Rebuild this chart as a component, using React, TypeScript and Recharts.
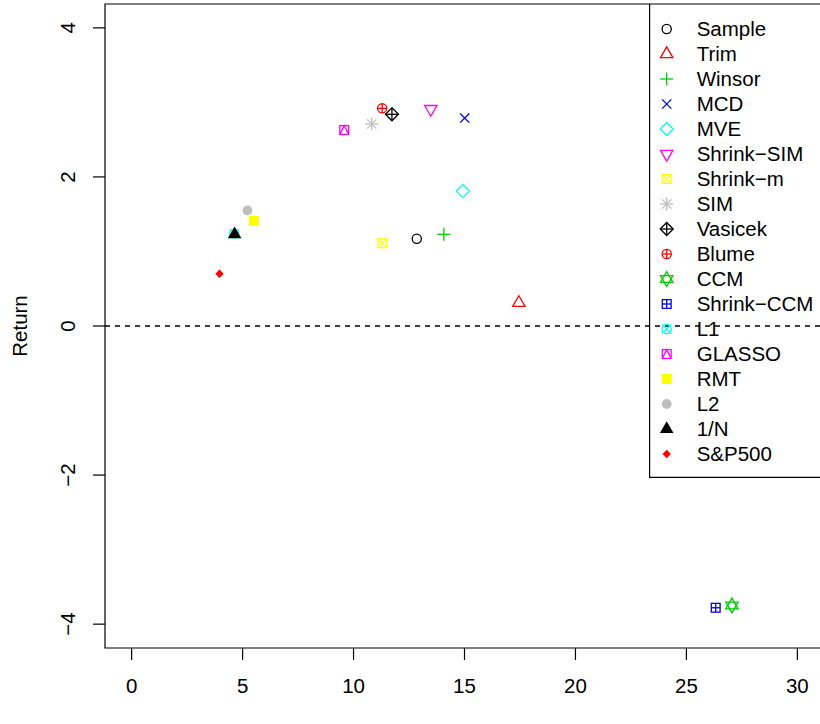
import React from "react";
import {
  ScatterChart,
  Scatter,
  XAxis,
  YAxis,
  ReferenceLine,
  ReferenceArea,
  Legend,
} from "recharts";

// estimators, in legend order
const methods = [
  "Sample", "Trim", "Winsor", "MCD", "MVE", "Shrink−SIM", "Shrink−m", "SIM", "Vasicek",
  "Blume", "CCM", "Shrink−CCM", "L1", "GLASSO", "RMT", "L2", "1/N", "S&P500",
];
const risk = [
  12.85, 17.45, 14.07, 15.01, 14.92, 13.48, 11.3, 10.82, 11.73,
  11.29, 27.05, 26.32, 4.62, 9.58, 5.51, 5.22, 4.64, 3.96,
];
const returns = [
  1.17, 0.31, 1.23, 2.79, 1.81, 2.91, 1.11, 2.71, 2.84,
  2.92, -3.75, -3.78, 1.24, 2.63, 1.41, 1.55, 1.23, 0.7,
];
const xTicks = [0, 5, 10, 15, 20, 25, 30];
const yTicks = [-4, -2, 0, 2, 4];

// R base palette + pch codes (style, not data)
const rPalette = ["#000000", "#FF0000", "#00CD00", "#0000FF", "#00FFFF", "#FF00FF", "#FFFF00", "#BEBEBE"];
const pchCodes = methods.map((_, i) => i + 1);
const colourOf = (i: number) => rPalette[i % 8];

const FONT = '"Liberation Sans", Arial, Helvetica, sans-serif';
const FS = 20.5;
const R = 4.6;
const SW = 1.3;

function PchSymbol({ cx, cy, pch, color }: { cx: number; cy: number; pch: number; color: string }) {
  const s = { stroke: color, strokeWidth: SW, fill: "none" };
  const f = { fill: color, stroke: "none" };
  const r = R;
  const q = 1.414 * r;
  const sq = 4.4;
  const tri = (up: boolean) => {
    const a = 1.555 * r, b = 0.778 * r, w = 1.347 * r;
    return up
      ? `${cx},${cy - a} ${cx + w},${cy + b} ${cx - w},${cy + b}`
      : `${cx},${cy + a} ${cx + w},${cy - b} ${cx - w},${cy - b}`;
  };
  switch (pch) {
    case 1:
      return <circle cx={cx} cy={cy} r={r} {...s} />;
    case 2:
      return <polygon points={tri(true)} {...s} />;
    case 3:
      return (
        <g {...s}>
          <line x1={cx - q} y1={cy} x2={cx + q} y2={cy} />
          <line x1={cx} y1={cy - q} x2={cx} y2={cy + q} />
        </g>
      );
    case 4:
      return (
        <g {...s}>
          <line x1={cx - r} y1={cy - r} x2={cx + r} y2={cy + r} />
          <line x1={cx - r} y1={cy + r} x2={cx + r} y2={cy - r} />
        </g>
      );
    case 5:
      return <polygon points={`${cx},${cy - q} ${cx + q},${cy} ${cx},${cy + q} ${cx - q},${cy}`} {...s} />;
    case 6:
      return <polygon points={tri(false)} {...s} />;
    case 7:
      return (
        <g {...s}>
          <rect x={cx - sq} y={cy - sq} width={2 * sq} height={2 * sq} />
          <line x1={cx - sq} y1={cy - sq} x2={cx + sq} y2={cy + sq} />
          <line x1={cx - sq} y1={cy + sq} x2={cx + sq} y2={cy - sq} />
        </g>
      );
    case 8:
      return (
        <g {...s}>
          <line x1={cx - r} y1={cy - r} x2={cx + r} y2={cy + r} />
          <line x1={cx - r} y1={cy + r} x2={cx + r} y2={cy - r} />
          <line x1={cx - q} y1={cy} x2={cx + q} y2={cy} />
          <line x1={cx} y1={cy - q} x2={cx} y2={cy + q} />
        </g>
      );
    case 9:
      return (
        <g {...s}>
          <polygon points={`${cx},${cy - q} ${cx + q},${cy} ${cx},${cy + q} ${cx - q},${cy}`} />
          <line x1={cx - q} y1={cy} x2={cx + q} y2={cy} />
          <line x1={cx} y1={cy - q} x2={cx} y2={cy + q} />
        </g>
      );
    case 10:
      return (
        <g {...s}>
          <circle cx={cx} cy={cy} r={r} />
          <line x1={cx - r} y1={cy} x2={cx + r} y2={cy} />
          <line x1={cx} y1={cy - r} x2={cx} y2={cy + r} />
        </g>
      );
    case 11: {
      const H = 1.6 * r, h = 0.73 * r, w = 1.347 * r;
      return (
        <g {...s}>
          <polygon points={`${cx},${cy - H} ${cx + w},${cy + h} ${cx - w},${cy + h}`} />
          <polygon points={`${cx},${cy + H} ${cx + w},${cy - h} ${cx - w},${cy - h}`} />
        </g>
      );
    }
    case 12:
      return (
        <g {...s}>
          <rect x={cx - sq} y={cy - sq} width={2 * sq} height={2 * sq} />
          <line x1={cx - sq} y1={cy} x2={cx + sq} y2={cy} />
          <line x1={cx} y1={cy - sq} x2={cx} y2={cy + sq} />
        </g>
      );
    case 13:
      return (
        <g {...s}>
          <circle cx={cx} cy={cy} r={r} />
          <line x1={cx - r} y1={cy - r} x2={cx + r} y2={cy + r} />
          <line x1={cx - r} y1={cy + r} x2={cx + r} y2={cy - r} />
        </g>
      );
    case 14:
      return (
        <g {...s}>
          <rect x={cx - sq} y={cy - sq} width={2 * sq} height={2 * sq} />
          <polyline points={`${cx - sq},${cy + sq} ${cx},${cy - sq} ${cx + sq},${cy + sq}`} />
        </g>
      );
    case 15:
      return <rect x={cx - sq - 0.6} y={cy - sq - 0.6} width={2 * sq + 1.2} height={2 * sq + 1.2} {...f} />;
    case 16:
      return <circle cx={cx} cy={cy} r={r + 0.3} {...f} />;
    case 17: {
      const a = 1.555 * r + 0.6, b = 0.778 * r + 0.4, w = 1.347 * r + 0.6;
      return <polygon points={`${cx},${cy - a} ${cx + w},${cy + b} ${cx - w},${cy + b}`} {...f} />;
    }
    case 18: {
      const d = 4.2;
      return <polygon points={`${cx},${cy - d} ${cx + d},${cy} ${cx},${cy + d} ${cx - d},${cy}`} {...f} />;
    }
    default:
      return null;
  }
}

function XTick({ x, y, payload }: any) {
  return (
    <text x={x} y={y + 31} textAnchor="middle" fontFamily={FONT} fontSize={FS} fill="#000">
      {payload.value}
    </text>
  );
}

function YTick({ x, y, payload }: any) {
  const v = Number(payload.value);
  const label = v < 0 ? `−${Math.abs(v)}` : `${v}`;
  return (
    <text
      transform={`translate(${x - 16}, ${y}) rotate(-90)`}
      textAnchor="middle"
      fontFamily={FONT}
      fontSize={FS}
      fill="#000"
    >
      {label}
    </text>
  );
}

function YLabel({ viewBox }: any) {
  const cy = viewBox.y + viewBox.height / 2;
  return (
    <text
      transform={`translate(27, ${cy}) rotate(-90)`}
      textAnchor="middle"
      fontFamily={FONT}
      fontSize={FS}
      fill="#000"
    >
      Return
    </text>
  );
}

const LEG_W = 190;
const LEG_H = 474;

function LegendBox() {
  return (
    <svg width={LEG_W} height={LEG_H} style={{ display: "block" }}>
      <line x1={0.6} y1={0} x2={0.6} y2={LEG_H} stroke="#000" strokeWidth={1.2} />
      <line x1={0} y1={LEG_H - 0.6} x2={LEG_W} y2={LEG_H - 0.6} stroke="#000" strokeWidth={1.2} />
      {methods.map((m, i) => {
        const cy = 25 + 25 * i;
        return (
          <g key={m}>
            <PchSymbol cx={17.7} cy={cy} pch={pchCodes[i]} color={colourOf(i)} />
            <text x={47.7} y={cy + 7} fontFamily={FONT} fontSize={FS} fill="#000">
              {m}
            </text>
          </g>
        );
      })}
    </svg>
  );
}

export default function App() {
  return (
    <div
      style={{
        position: "absolute",
        left: 0,
        top: 0,
        width: 820,
        height: 724,
        overflow: "hidden",
        background: "#fff",
      }}
    >
      <ScatterChart width={830} height={724} margin={{ top: 4, right: 6, bottom: 0, left: 0 }}>
        <XAxis
          type="number"
          dataKey="x"
          domain={[-1.2, 31.2]}
          ticks={xTicks}
          allowDataOverflow
          height={76}
          axisLine={false}
          tickLine={{ stroke: "#000", strokeWidth: 1.2 }}
          tickSize={12}
          tick={<XTick />}
          interval={0}
        />
        <YAxis
          type="number"
          dataKey="y"
          domain={[-4.32, 4.32]}
          ticks={yTicks}
          allowDataOverflow
          width={105}
          axisLine={false}
          tickLine={{ stroke: "#000", strokeWidth: 1.2 }}
          tickSize={12}
          tick={<YTick />}
          interval={0}
          label={<YLabel />}
        />
        <ReferenceArea
          x1={-1.2}
          x2={31.2}
          y1={-4.32}
          y2={4.32}
          fill="none"
          fillOpacity={0}
          stroke="#000"
          strokeWidth={1.2}
          ifOverflow="visible"
        />
        {methods.map((m, i) => (
          <Scatter
            key={m}
            name={m}
            data={[{ x: risk[i], y: returns[i] }]}
            isAnimationActive={false}
            shape={(p: any) => <PchSymbol cx={p.cx} cy={p.cy} pch={pchCodes[i]} color={colourOf(i)} />}
          />
        ))}
        <ReferenceLine y={0} stroke="#000" strokeWidth={1.4} strokeDasharray="5 5" ifOverflow="visible" />
        <Legend
          layout="vertical"
          align="center"
          verticalAlign="middle"
          content={<LegendBox />}
          wrapperStyle={{ left: 649, top: 4, width: LEG_W, height: LEG_H }}
        />
      </ScatterChart>
    </div>
  );
}
